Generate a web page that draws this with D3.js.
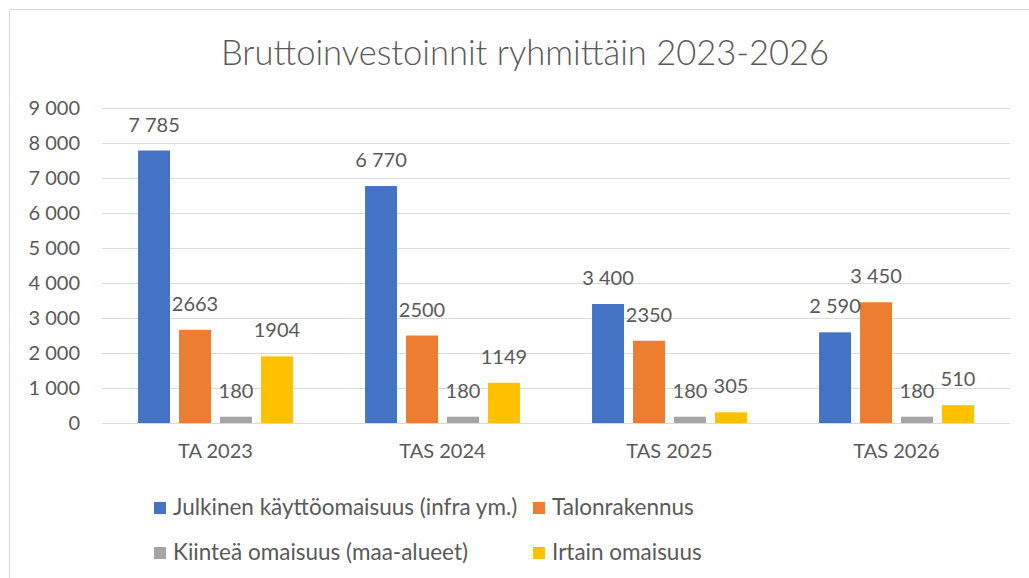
<!DOCTYPE html>
<html lang="fi">
<head>
<meta charset="utf-8">
<title>Bruttoinvestoinnit ryhmittäin 2023-2026</title>
<script src="https://cdn.jsdelivr.net/npm/d3@7"></script>
<style>
    html, body { margin: 0; padding: 0; background: #fff; }
    #chart-container { width: 1029px; height: 578px; overflow: hidden; }
    text { font-family: Lato, "Open Sans", sans-serif; fill: #595959; }
    .gridline { stroke: #d9d9d9; stroke-width: 1; }
</style>
</head>
<body>
<div id="chart-container"></div>
<script>
// Chart data
const categories = ["TA 2023", "TAS 2024", "TAS 2025", "TAS 2026"];
const seriesNames = [
    "Julkinen käyttöomaisuus (infra ym.)",
    "Talonrakennus",
    "Kiinteä omaisuus (maa-alueet)",
    "Irtain omaisuus"
];
const julkinen = [7785, 6770, 3400, 2590];
const talonrakennus = [2663, 2500, 2350, 3450];
const kiintea = [180, 180, 180, 180];
const irtain = [1904, 1149, 305, 510];
// labels as printed in the source (number format differs per series)
const julkinenLabels = ["7 785", "6 770", "3 400", "2 590"];
const talonrakennusLabels = ["2663", "2500", "2350", "3 450"];
const kiinteaLabels = ["180", "180", "180", "180"];
const irtainLabels = ["1904", "1149", "305", "510"];
const yTicks = [0, 1000, 2000, 3000, 4000, 5000, 6000, 7000, 8000, 9000];
const colors = ["#4472c4", "#ed7d31", "#a5a5a5", "#ffc000"];

const ChartHandler = {
    svg: null,
    x0: null,
    x1: null,
    y: null,
    rows: null,

    /**
     * Builds the svg, scales and the flattened bar rows.
     */
    init() {
        const container = document.getElementById("chart-container");
        const width = 1029, height = 578;

        this.svg = d3.select(container).append("svg")
            .attr("width", width)
            .attr("height", height);

        const values = [julkinen, talonrakennus, kiintea, irtain];
        const labels = [julkinenLabels, talonrakennusLabels, kiinteaLabels, irtainLabels];
        this.rows = [];
        categories.forEach((cat, i) => {
            seriesNames.forEach((s, j) => {
                this.rows.push({ cat, series: s, idx: j, value: values[j][i], label: labels[j][i] });
            });
        });

        this.x0 = d3.scaleBand().domain(categories).range([102, 1010]).padding(0);
        this.x1 = d3.scaleBand().domain(seriesNames)
            .range([0, this.x0.bandwidth()])
            .paddingInner(0.22)
            .paddingOuter(0.88);
        this.y = d3.scaleLinear().domain([0, 9000]).range([423, 108]);

        this.render();
    },

    /**
     * Draws frame, title, grid, bars, labels and legend.
     */
    render() {
        const svg = this.svg;

        // chart frame (right and bottom run off the picture)
        svg.append("rect")
            .attr("x", 9.5).attr("y", 9.5)
            .attr("width", 1040).attr("height", 600)
            .attr("fill", "none")
            .attr("stroke", "#d9d9d9");

        svg.append("text")
            .attr("x", 525).attr("y", 65)
            .attr("text-anchor", "middle")
            .style("font-size", "34.5px")
            .style("font-weight", 300)
            .text("Bruttoinvestoinnit ryhmittäin 2023-2026");

        // gridlines
        svg.selectAll(".gridline")
            .data(yTicks)
            .enter().append("line")
            .attr("class", "gridline")
            .attr("x1", 102).attr("x2", 1010)
            .attr("y1", d => Math.round(this.y(d)) + 0.5)
            .attr("y2", d => Math.round(this.y(d)) + 0.5);

        const yAxis = svg.append("g")
            .attr("transform", "translate(102,0)")
            .call(d3.axisLeft(this.y)
                .tickValues(yTicks)
                .tickSize(0)
                .tickPadding(22)
                .tickFormat(d => d3.format(",")(d).replace(/,/g, " ")));
        yAxis.select(".domain").remove();
        yAxis.selectAll("text")
            .style("font-size", "20px")
            .attr("fill", "#595959");

        const xAxis = svg.append("g")
            .attr("transform", "translate(0,423)")
            .call(d3.axisBottom(this.x0).tickSize(0).tickPadding(21));
        xAxis.select(".domain").remove();
        xAxis.selectAll("text")
            .style("font-size", "20px")
            .attr("fill", "#595959");

        // bars
        svg.selectAll(".bar")
            .data(this.rows)
            .enter().append("rect")
            .attr("class", "bar")
            .attr("x", d => this.x0(d.cat) + this.x1(d.series))
            .attr("y", d => this.y(d.value))
            .attr("width", this.x1.bandwidth())
            .attr("height", d => this.y(0) - this.y(d.value))
            .attr("fill", d => colors[d.idx]);

        // data labels
        svg.selectAll(".bar-label")
            .data(this.rows)
            .enter().append("text")
            .attr("class", "bar-label")
            .attr("x", d => this.x0(d.cat) + this.x1(d.series) + this.x1.bandwidth() / 2)
            .attr("y", d => this.y(d.value) - 19)
            .attr("text-anchor", "middle")
            .style("font-size", "20px")
            .text(d => d.label);

        // legend, two columns
        const legendPos = [[154, 515], [533, 515], [154, 560], [533, 560]];
        const legend = svg.selectAll(".legend-item")
            .data(seriesNames)
            .enter().append("g")
            .attr("class", "legend-item")
            .attr("transform", (d, i) => `translate(${legendPos[i][0]},${legendPos[i][1]})`);
        legend.append("rect")
            .attr("x", 0).attr("y", -13)
            .attr("width", 12).attr("height", 12)
            .attr("fill", (d, i) => colors[i]);
        legend.append("text")
            .attr("x", 19).attr("y", 0)
            .style("font-size", "22.5px")
            .text(d => d);
    }
};

ChartHandler.init();
</script>
</body>
</html>
